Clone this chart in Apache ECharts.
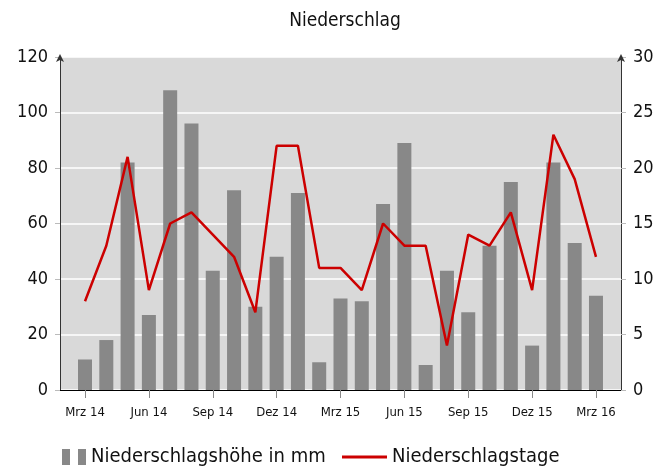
<!DOCTYPE html>
<html>
<head>
<meta charset="utf-8">
<script src="https://cdn.jsdelivr.net/npm/echarts@6/dist/echarts.min.js"></script>
<style>
  html, body { margin: 0; padding: 0; background: #fff; }
  #chart { width: 659px; height: 469px; }
</style>
</head>
<body>
<div id="chart"></div>
<script>
var months = ["Mrz 14", "Apr 14", "Mai 14", "Jun 14", "Jul 14", "Aug 14", "Sep 14", "Okt 14", "Nov 14",
  "Dez 14", "Jan 15", "Feb 15", "Mrz 15", "Apr 15", "Mai 15", "Jun 15", "Jul 15", "Aug 15", "Sep 15",
  "Okt 15", "Nov 15", "Dez 15", "Jan 16", "Feb 16", "Mrz 16"];
var tickIdx = [0, 3, 6, 9, 12, 15, 18, 21, 24];
var hoehe = [11, 18, 82, 27, 108, 96, 43, 72, 30, 48, 71, 10, 33, 32, 67, 89, 9, 43, 28, 52, 75, 16, 82, 53, 34];
var tage = [8, 13, 21, 9, 15, 16, 14, 12, 7, 22, 22, 11, 11, 9, 15, 13, 13, 4, 14, 13, 16, 9, 23, 19, 12];

var myChart = echarts.init(document.getElementById("chart"));
var font = "'DejaVu Sans Condensed', 'DejaVu Sans', sans-serif";

var option = {
  animation: false,
  textStyle: { fontFamily: font },
  title: {
    text: "Niederschlag",
    left: 340,
    textAlign: "center",
    top: 7,
    textStyle: { fontFamily: font, fontSize: 19, fontWeight: "normal", color: "#111" }
  },
  legend: [
    {
      left: 62, top: 447, padding: 0,
      itemWidth: 24, itemHeight: 16, itemGap: 6,
      textStyle: { fontFamily: font, fontSize: 20, color: "#111" },
      data: [{ name: "Niederschlagshöhe in mm", icon: "path://M0,0h8v16h-8z M16,0h8v16h-8z", itemStyle: { color: "#888" } }]
    },
    {
      left: 342, top: 447, padding: 0,
      itemWidth: 45, itemHeight: 3,
      textStyle: { fontFamily: font, fontSize: 20, color: "#111" },
      data: [{ name: "Niederschlagstage", icon: "rect", itemStyle: { color: "#cc0000" } }]
    }
  ],
  grid: {
    left: 60, right: 38, top: 57, bottom: 79,
    show: true, backgroundColor: "#d9d9d9", borderWidth: 0
  },
  xAxis: {
    type: "value",
    min: -1.175,
    max: 25.175,
    splitLine: { show: false },
    axisLine: { show: true, onZero: false, lineStyle: { color: "#000", width: 1.2 } },
    axisTick: { show: true, customValues: tickIdx, length: 8, lineStyle: { color: "#888" } },
    axisLabel: {
      customValues: tickIdx,
      formatter: function (v) { return months[Math.round(v)]; },
      fontSize: 13, color: "#111", margin: 16
    }
  },
  yAxis: [
    {
      type: "value", min: 0, max: 120, interval: 20,
      axisLine: { show: true, onZero: false, symbol: ["none", "arrow"], symbolSize: [6, 8], symbolOffset: [0, 3],
        lineStyle: { color: "#333", width: 1 } },
      axisTick: { show: true, length: 5, lineStyle: { color: "#bbb" } },
      splitLine: { lineStyle: { color: "#fff", width: 1.5 } },
      axisLabel: { fontSize: 18, color: "#111", margin: 12 }
    },
    {
      type: "value", min: 0, max: 30, interval: 5,
      axisLine: { show: true, onZero: false, symbol: ["none", "arrow"], symbolSize: [6, 8], symbolOffset: [0, 3],
        lineStyle: { color: "#333", width: 1 } },
      axisTick: { show: true, length: 5, lineStyle: { color: "#bbb" } },
      splitLine: { show: false },
      axisLabel: { fontSize: 18, color: "#111", margin: 12 }
    }
  ],
  series: [
    {
      name: "Niederschlagshöhe in mm",
      type: "bar",
      yAxisIndex: 0,
      barWidth: 14,
      itemStyle: { color: "#888" },
      data: hoehe.map(function (v, i) { return [i, v]; })
    },
    {
      name: "Niederschlagstage",
      type: "line",
      yAxisIndex: 1,
      symbol: "none",
      lineStyle: { color: "#cc0000", width: 2.5 },
      itemStyle: { color: "#cc0000" },
      data: tage.map(function (v, i) { return [i, v]; })
    }
  ]
};

myChart.setOption(option);
</script>
</body>
</html>
